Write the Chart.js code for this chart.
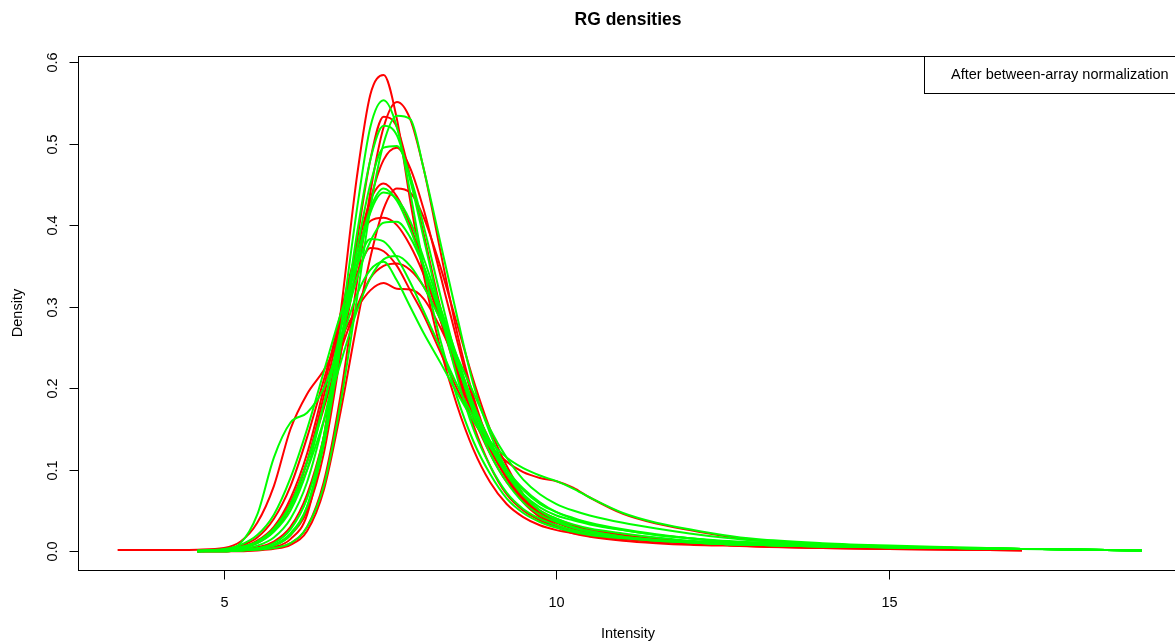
<!DOCTYPE html>
<html>
<head>
<meta charset="utf-8">
<title>RG densities</title>
<script src="https://cdn.jsdelivr.net/npm/chart.js@4/dist/chart.umd.min.js"></script>
<style>
  html, body { margin: 0; padding: 0; background: #fff; overflow: hidden; }
  #wrap { width: 1175px; height: 643px; overflow: hidden; }
  canvas { display: block; }
</style>
</head>
<body>
<div id="wrap"><canvas id="dens" width="1182" height="643"></canvas></div>
<script>
// Intensity grid shared by all density curves
const xGrid = [3.4, 4.0, 4.6, 5.0, 5.25, 5.5, 5.75, 6.0, 6.25, 6.5, 6.75, 7.0, 7.2, 7.4, 7.6, 7.8,
               8.0, 8.25, 8.5, 8.75, 9.0, 9.25, 9.5, 9.75, 10.0, 10.25, 10.5,
               11.0, 11.5, 12.0, 12.5, 13.0, 14.0, 15.0, 16.0, 17.0, 18.0, 18.8];

// red channel densities (one per array)
const red1  = [null,null,0, 0,0.001,0.002,0.005, 0.015,0.045,0.14,0.29, 0.46,0.56,0.584,0.53,0.43, 0.34,0.25,0.18,0.125, 0.085,0.058,0.042,0.032, 0.026,0.022,0.019, 0.015,0.012,0.010,0.008,0.007, 0.005,0.004,0.003,0.002,null,null];
const red2  = [null,null,0, 0,0.001,0.002,0.004, 0.01,0.03,0.085,0.19, 0.33,0.44,0.52,0.551,0.53, 0.47,0.37,0.27,0.19, 0.13,0.09,0.062,0.045, 0.035,0.028,0.023, 0.017,0.013,0.010,0.008,0.007, 0.005,0.004,0.003,0.002,null,null];
const red3  = [null,null,0, 0,0.001,0.003,0.007, 0.02,0.05,0.12,0.24, 0.38,0.48,0.533,0.52,0.46, 0.39,0.30,0.22,0.155, 0.105,0.07,0.05,0.038, 0.03,0.025,0.021, 0.016,0.012,0.010,0.008,0.007, 0.005,0.004,0.003,0.002,null,null];
const red4  = [null,null,0, 0.001,0.002,0.005,0.012, 0.03,0.07,0.14,0.24, 0.35,0.43,0.48,0.495,0.47, 0.42,0.34,0.26,0.185, 0.13,0.09,0.065,0.05, 0.04,0.032,0.027, 0.02,0.015,0.012,0.01,0.008, 0.006,0.004,0.003,0.002,null,null];
const red5  = [null,null,0, 0.002,0.004,0.01,0.025, 0.055,0.11,0.19,0.28, 0.37,0.43,0.451,0.435,0.40, 0.35,0.285,0.22,0.165, 0.12,0.085,0.062,0.048, 0.038,0.03,0.025, 0.019,0.015,0.012,0.01,0.008, 0.006,0.004,0.003,0.002,null,null];
const red6  = [null,null,0, 0.002,0.005,0.013,0.03, 0.065,0.12,0.2,0.29, 0.37,0.405,0.409,0.40,0.375, 0.34,0.285,0.225,0.17, 0.125,0.09,0.065,0.048, 0.036,0.028,0.023, 0.017,0.013,0.011,0.009,0.008, 0.006,0.004,0.003,0.002,null,null];
const red7  = [null,null,0.001, 0.003,0.007,0.017,0.04, 0.08,0.14,0.21,0.28, 0.34,0.372,0.368,0.35,0.32, 0.29,0.245,0.2,0.16, 0.13,0.11,0.097,0.09, 0.086,0.078,0.066, 0.046,0.034,0.026,0.019,0.014, 0.009,0.006,0.004,0.003,null,null];
const red8  = [null,null,0.001, 0.002,0.005,0.012,0.028, 0.06,0.11,0.175,0.245, 0.30,0.335,0.35,0.353,0.345, 0.325,0.285,0.235,0.18, 0.13,0.09,0.06,0.042, 0.03,0.024,0.02, 0.015,0.012,0.01,0.008,0.007, 0.005,0.004,0.003,0.002,null,null];
const red9  = [0.0015,0.0015,0.002, 0.004,0.012,0.035,0.08, 0.15,0.193,0.222,0.26, 0.298,0.32,0.329,0.322,0.321, 0.31,0.275,0.23,0.18, 0.135,0.095,0.065,0.045, 0.032,0.025,0.021, 0.016,0.012,0.01,0.008,0.006, 0.004,0.003,0.002,0.001,null,null];
const red10 = [null,null,0, 0,0,0.001,0.003, 0.008,0.025,0.075,0.17, 0.28,0.36,0.42,0.445,0.44, 0.41,0.35,0.28,0.21, 0.15,0.105,0.07,0.045, 0.03,0.022,0.018, 0.013,0.01,0.008,0.007,0.006, 0.004,0.003,0.002,0.001,null,null];

// green channel densities
const green1  = [null,null,0, 0,0.001,0.003,0.007, 0.02,0.055,0.14,0.27, 0.42,0.52,0.553,0.52,0.44, 0.35,0.26,0.19,0.135, 0.095,0.065,0.047,0.036, 0.029,0.024,0.02, 0.016,0.013,0.011,0.009,0.008, 0.006,0.005,0.004,0.003,0.002,0.001];
const green2  = [null,null,0, 0,0.001,0.002,0.004, 0.01,0.03,0.08,0.18, 0.31,0.42,0.50,0.534,0.53, 0.47,0.38,0.29,0.205, 0.145,0.1,0.07,0.05, 0.038,0.03,0.025, 0.018,0.014,0.011,0.009,0.008, 0.006,0.005,0.004,0.003,0.002,0.001];
const green3  = [null,null,0, 0,0.001,0.003,0.008, 0.022,0.055,0.13,0.25, 0.39,0.48,0.522,0.51,0.455, 0.385,0.295,0.215,0.15, 0.105,0.072,0.052,0.04, 0.032,0.026,0.022, 0.017,0.013,0.011,0.009,0.008, 0.006,0.005,0.004,0.003,0.002,0.001];
const green4  = [null,null,0, 0.001,0.002,0.004,0.01, 0.027,0.065,0.14,0.25, 0.37,0.45,0.495,0.497,0.46, 0.40,0.315,0.235,0.17, 0.12,0.085,0.06,0.045, 0.036,0.029,0.024, 0.018,0.014,0.011,0.009,0.008, 0.006,0.005,0.004,0.003,0.002,0.001];
const green5  = [null,null,0, 0.002,0.004,0.01,0.024, 0.05,0.1,0.18,0.27, 0.36,0.42,0.445,0.43,0.395, 0.35,0.29,0.23,0.175, 0.13,0.095,0.07,0.054, 0.044,0.038,0.033, 0.026,0.02,0.016,0.012,0.01, 0.007,0.005,0.004,0.003,0.002,0.001];
const green6  = [null,null,0, 0.001,0.003,0.007,0.017, 0.04,0.085,0.16,0.255, 0.35,0.415,0.44,0.432,0.405, 0.36,0.3,0.24,0.18, 0.13,0.095,0.068,0.05, 0.04,0.033,0.028, 0.022,0.017,0.013,0.011,0.009, 0.007,0.005,0.004,0.003,0.002,0.001];
const green7  = [null,null,0, 0.002,0.005,0.012,0.028, 0.058,0.11,0.18,0.26, 0.335,0.38,0.403,0.404,0.385, 0.35,0.295,0.235,0.18, 0.135,0.1,0.075,0.058, 0.048,0.041,0.035, 0.027,0.021,0.016,0.012,0.01, 0.007,0.005,0.004,0.003,0.002,0.001];
const green8  = [null,null,0.001, 0.003,0.008,0.02,0.045, 0.09,0.15,0.22,0.29, 0.35,0.383,0.38,0.36,0.33, 0.295,0.25,0.205,0.165, 0.135,0.115,0.102,0.093, 0.086,0.077,0.066, 0.047,0.035,0.027,0.02,0.015, 0.01,0.007,0.005,0.003,0.002,0.001];
const green9  = [null,null,0, 0.002,0.005,0.012,0.027, 0.055,0.1,0.16,0.23, 0.295,0.335,0.358,0.362,0.35, 0.325,0.285,0.24,0.195, 0.15,0.115,0.088,0.07, 0.058,0.05,0.044, 0.035,0.028,0.022,0.017,0.013, 0.009,0.006,0.004,0.003,0.002,0.001];
const green10 = [null,null,0.001, 0.002,0.01,0.045,0.115, 0.158,0.17,0.2,0.255, 0.315,0.345,0.355,0.332,0.30, 0.268,0.232,0.195,0.16, 0.128,0.1,0.077,0.06, 0.048,0.04,0.034, 0.026,0.02,0.016,0.013,0.011, 0.008,0.005,0.004,0.003,0.002,0.001];

const xTicks = [5, 10, 15];
const yTicks = [0.0, 0.1, 0.2, 0.3, 0.4, 0.5, 0.6];
const titleText = "RG densities";
const xLabel = "Intensity";
const yLabel = "Density";
const legendText = "After between-array normalization";

const FONT = '"Liberation Sans", Arial, sans-serif';

// curve -> {x,y} points, skipping where the density is undefined
const toPoints = ys => ys.map((y, i) => ({ x: xGrid[i], y })).filter(p => p.y != null);

const redSets   = [red1, red2, red3, red4, red5, red6, red7, red8, red9, red10];
const greenSets = [green1, green2, green3, green4, green5, green6, green7, green8, green9, green10];

const datasets = [];
redSets.forEach((ys, i) => datasets.push({ label: 'R' + (i + 1), data: toPoints(ys), borderColor: '#ff0000', order: 2 }));
greenSets.forEach((ys, i) => datasets.push({ label: 'G' + (i + 1), data: toPoints(ys), borderColor: '#00ff00', order: 1 }));

// R-style box, axes, titles and legend
const rFrame = {
  id: 'rFrame',
  afterDraw(chart) {
    const { ctx, chartArea: a, scales: { x, y } } = chart;
    ctx.save();
    ctx.strokeStyle = '#000';
    ctx.fillStyle = '#000';
    ctx.lineWidth = 1;
    ctx.strokeRect(Math.round(a.left) + 0.5, Math.round(a.top) + 0.5, a.right - a.left, a.bottom - a.top);

    ctx.font = '14.5px ' + FONT;
    ctx.textAlign = 'center';
    ctx.textBaseline = 'middle';
    const bottom = Math.round(a.bottom) + 0.5;
    xTicks.forEach(v => {
      const px = Math.round(x.getPixelForValue(v)) + 0.5;
      ctx.beginPath(); ctx.moveTo(px, bottom); ctx.lineTo(px, bottom + 9); ctx.stroke();
      ctx.fillText(String(v), px, 603);
    });
    const left = Math.round(a.left) + 0.5;
    yTicks.forEach(v => {
      const py = Math.round(y.getPixelForValue(v)) + 0.5;
      ctx.beginPath(); ctx.moveTo(left - 9, py); ctx.lineTo(left, py); ctx.stroke();
      ctx.save();
      ctx.translate(53, py);
      ctx.rotate(-Math.PI / 2);
      ctx.fillText(v.toFixed(1), 0, 0);
      ctx.restore();
    });

    ctx.fillText(xLabel, (a.left + a.right) / 2, 634);
    ctx.save();
    ctx.translate(18, (a.top + a.bottom) / 2);
    ctx.rotate(-Math.PI / 2);
    ctx.fillText(yLabel, 0, 0);
    ctx.restore();

    ctx.font = 'bold 17.5px ' + FONT;
    ctx.fillText(titleText, (a.left + a.right) / 2, 20);

    // legend box
    ctx.fillStyle = '#fff';
    ctx.fillRect(924, Math.round(a.top) + 1, 300, 36);
    ctx.strokeRect(924.5, Math.round(a.top) + 0.5, 300, 37);
    ctx.fillStyle = '#000';
    ctx.font = '14.5px ' + FONT;
    ctx.textAlign = 'left';
    ctx.fillText(legendText, 951, Math.round(a.top) + 19);
    ctx.restore();
  }
};

new Chart(document.getElementById('dens').getContext('2d'), {
  type: 'line',
  data: { datasets },
  options: {
    responsive: false,
    animation: false,
    events: [],
    layout: { padding: { left: 78, top: 56, right: 4, bottom: 73 } },
    elements: {
      line: { borderWidth: 2, fill: false, cubicInterpolationMode: 'monotone' },
      point: { radius: 0 }
    },
    plugins: { legend: { display: false }, tooltip: { enabled: false }, title: { display: false } },
    scales: {
      x: { type: 'linear', display: false, min: 2.8045, max: 19.346 },
      y: { type: 'linear', display: false, min: -0.0229, max: 0.6074 }
    }
  },
  plugins: [rFrame]
});
</script>
</body>
</html>
